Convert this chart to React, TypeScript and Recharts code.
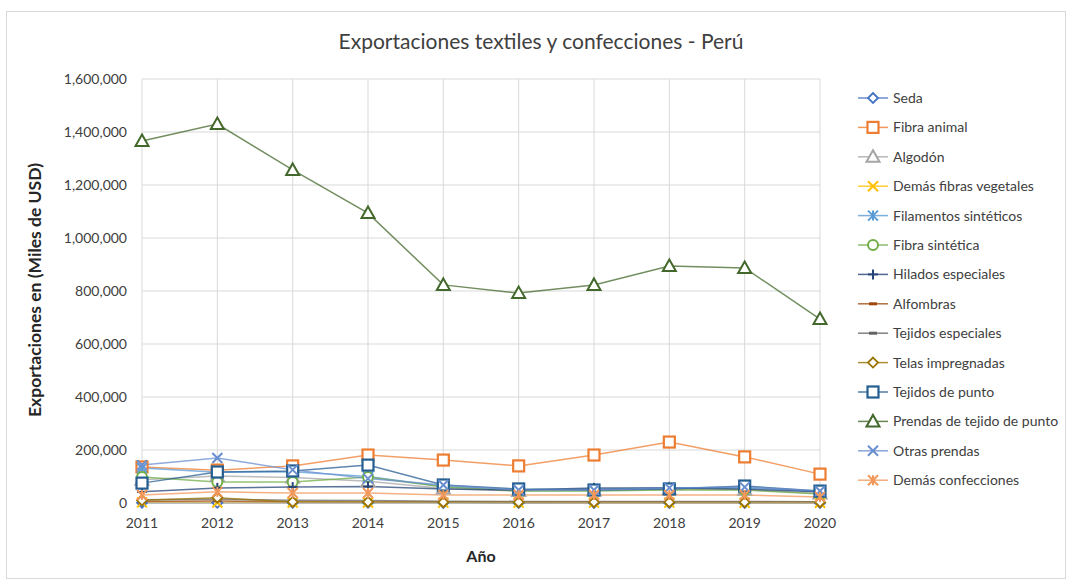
import React from 'react';
import { LineChart, Line, XAxis, YAxis, CartesianGrid, Label } from 'recharts';

const years = ['2011', '2012', '2013', '2014', '2015', '2016', '2017', '2018', '2019', '2020'];

// Exportaciones en miles de USD por año
const seda = [1000, 800, 700, 600, 500, 400, 400, 400, 300, 300];
const fibraAnimal = [136000, 124000, 140000, 181000, 162000, 140000, 181000, 230000, 174000, 109000];
const algodon = [88000, 102000, 96000, 82000, 55000, 45000, 47000, 52000, 50000, 36000];
const demasFibrasVegetales = [2500, 2000, 2000, 1800, 1500, 1500, 1400, 1300, 1200, 1000];
const filamentosSinteticos = [132000, 116000, 118000, 100000, 62000, 50000, 52000, 58000, 58000, 42000];
const fibraSintetica = [98000, 79000, 79000, 98000, 60000, 45000, 45000, 49000, 49000, 34000];
const hiladosEspeciales = [42000, 57000, 60000, 62000, 53000, 49000, 57000, 57000, 53000, 42000];
const alfombras = [6000, 8000, 4000, 3000, 3000, 2000, 2000, 2000, 2000, 1500];
const tejidosEspeciales = [12000, 14000, 10000, 9000, 7000, 6000, 6000, 6000, 6000, 5000];
const telasImpregnadas = [10000, 20000, 4000, 4000, 3000, 3000, 3000, 3000, 3000, 3000];
const tejidosDePunto = [75000, 117000, 121000, 143000, 68000, 53000, 49000, 53000, 64000, 45000];
const prendasTejidoPunto = [1366000, 1430000, 1257000, 1094000, 823000, 792000, 823000, 894000, 887000, 694000];
const otrasPrendas = [143000, 170000, 125000, 92000, 68000, 49000, 49000, 57000, 60000, 45000];
const demasConfecciones = [30000, 42000, 38000, 38000, 30000, 30000, 30000, 30000, 30000, 23000];

const yTicks = [0, 200000, 400000, 600000, 800000, 1000000, 1200000, 1400000, 1600000];

type Shape = 'diamond' | 'square' | 'triangle' | 'x' | 'star' | 'circle' | 'plus' | 'dash';

const series: { key: string; name: string; values: number[]; color: string; shape: Shape }[] = [
  { key: 'seda', name: 'Seda', values: seda, color: '#4472C4', shape: 'diamond' },
  { key: 'fibraAnimal', name: 'Fibra animal', values: fibraAnimal, color: '#ED7D31', shape: 'square' },
  { key: 'algodon', name: 'Algodón', values: algodon, color: '#A5A5A5', shape: 'triangle' },
  { key: 'demasFibras', name: 'Demás fibras vegetales', values: demasFibrasVegetales, color: '#FFC000', shape: 'x' },
  { key: 'filamentos', name: 'Filamentos sintéticos', values: filamentosSinteticos, color: '#5B9BD5', shape: 'star' },
  { key: 'fibraSintetica', name: 'Fibra sintética', values: fibraSintetica, color: '#70AD47', shape: 'circle' },
  { key: 'hilados', name: 'Hilados especiales', values: hiladosEspeciales, color: '#264478', shape: 'plus' },
  { key: 'alfombras', name: 'Alfombras', values: alfombras, color: '#9E480E', shape: 'dash' },
  { key: 'tejidosEsp', name: 'Tejidos especiales', values: tejidosEspeciales, color: '#636363', shape: 'dash' },
  { key: 'telas', name: 'Telas impregnadas', values: telasImpregnadas, color: '#997300', shape: 'diamond' },
  { key: 'tejidosPunto', name: 'Tejidos de punto', values: tejidosDePunto, color: '#255E91', shape: 'square' },
  { key: 'prendas', name: 'Prendas de tejido de punto', values: prendasTejidoPunto, color: '#43682B', shape: 'triangle' },
  { key: 'otras', name: 'Otras prendas', values: otrasPrendas, color: '#698ED0', shape: 'x' },
  { key: 'demasConf', name: 'Demás confecciones', values: demasConfecciones, color: '#F1975A', shape: 'star' },
];

const data = years.map((year, i) => {
  const row: Record<string, string | number> = { year };
  series.forEach((s) => {
    row[s.key] = s.values[i];
  });
  return row;
});

const FONT = 'Lato, "Noto Sans", sans-serif';

const Marker = ({ cx, cy, shape, color }: { cx: number; cy: number; shape: Shape; color: string }) => {
  const r = 5;
  switch (shape) {
    case 'diamond':
      return (
        <polygon
          points={`${cx},${cy - r} ${cx + r},${cy} ${cx},${cy + r} ${cx - r},${cy}`}
          fill="#fff"
          stroke={color}
          strokeWidth={1.8}
        />
      );
    case 'square':
      return <rect x={cx - 5.5} y={cy - 5.5} width={11} height={11} fill="#fff" stroke={color} strokeWidth={2.2} />;
    case 'triangle':
      return (
        <polygon
          points={`${cx},${cy - 6.5} ${cx + 6.5},${cy + 5} ${cx - 6.5},${cy + 5}`}
          fill="#fff"
          stroke={color}
          strokeWidth={2}
        />
      );
    case 'circle':
      return <circle cx={cx} cy={cy} r={5} fill="#fff" stroke={color} strokeWidth={2} />;
    case 'x':
      return (
        <g stroke={color} strokeWidth={2}>
          <line x1={cx - r} y1={cy - r} x2={cx + r} y2={cy + r} />
          <line x1={cx - r} y1={cy + r} x2={cx + r} y2={cy - r} />
        </g>
      );
    case 'star':
      return (
        <g stroke={color} strokeWidth={2}>
          <line x1={cx - r} y1={cy - r} x2={cx + r} y2={cy + r} />
          <line x1={cx - r} y1={cy + r} x2={cx + r} y2={cy - r} />
          <line x1={cx} y1={cy - r} x2={cx} y2={cy + r} />
        </g>
      );
    case 'plus':
      return (
        <g stroke={color} strokeWidth={2}>
          <line x1={cx - r} y1={cy} x2={cx + r} y2={cy} />
          <line x1={cx} y1={cy - r} x2={cx} y2={cy + r} />
        </g>
      );
    default:
      return <line x1={cx - 4} y1={cy} x2={cx + 4} y2={cy} stroke={color} strokeWidth={3} />;
  }
};

const LegendBox = () => (
  <svg width={215} height={420} style={{ position: 'absolute', left: 852, top: 84 }}>
    {series.map((s, i) => {
      const y = 14 + i * 29.4;
      return (
        <g key={s.key}>
          <line x1={6} y1={y} x2={36} y2={y} stroke={s.color} strokeWidth={1.5} strokeOpacity={0.8} />
          <Marker cx={21} cy={y} shape={s.shape} color={s.color} />
          <text x={41} y={y} dy="0.35em" fontSize={14} fill="#404040" fontFamily={FONT}>
            {s.name}
          </text>
        </g>
      );
    })}
  </svg>
);

export default function App() {
  return (
    <div style={{ position: 'absolute', left: 0, top: 0, width: 1067, height: 581, background: '#fff', overflow: 'hidden' }}>
      <div
        style={{
          position: 'absolute',
          left: 6,
          top: 11,
          width: 1060,
          height: 568,
          border: '1px solid #d9d9d9',
          boxSizing: 'border-box',
        }}
      />
      <div
        style={{
          position: 'absolute',
          left: 0,
          top: 28,
          width: 1082,
          textAlign: 'center',
          fontFamily: FONT,
          fontSize: 21,
          color: '#404040',
        }}
      >
        Exportaciones textiles y confecciones - Perú
      </div>
      <svg width={60} height={581} style={{ position: 'absolute', left: 0, top: 0 }}>
        <text
          x={35}
          y={290}
          transform="rotate(-90 35 290)"
          textAnchor="middle"
          dy="0.35em"
          fontSize={17.5}
          fontWeight={700}
          fill="#262626"
          fontFamily={FONT}
        >
          Exportaciones en (Miles de USD)
        </text>
      </svg>
      <div style={{ position: 'absolute', left: 0, top: 0 }}>
        <LineChart width={1067} height={581} data={data} margin={{ top: 79, right: 247, bottom: 48, left: 62 }}>
          <CartesianGrid stroke="#d9d9d9" strokeWidth={1} />
          <XAxis
            dataKey="year"
            tickLine={false}
            axisLine={{ stroke: '#bfbfbf' }}
            tickSize={0}
            tickMargin={15}
            height={30}
            tick={{ fontSize: 14, fill: '#404040', fontFamily: FONT }}
            interval={0}
          >
            <Label value="Año" position="bottom" offset={18} style={{ fontSize: 16, fontWeight: 700, fill: '#262626', fontFamily: FONT }} />
          </XAxis>
          <YAxis
            width={80}
            domain={[0, 1600000]}
            ticks={yTicks}
            tickLine={false}
            axisLine={false}
            tickSize={0}
            tickMargin={15}
            tickFormatter={(v: number) => v.toLocaleString('en-US')}
            tick={{ fontSize: 14, fill: '#404040', fontFamily: FONT }}
          />
          {series.map((s) => (
            <Line
              key={s.key}
              dataKey={s.key}
              name={s.name}
              stroke={s.color}
              strokeWidth={1.5}
              strokeOpacity={0.75}
              isAnimationActive={false}
              dot={(p: any) => <Marker key={`${s.key}-${p.index}`} cx={p.cx} cy={p.cy} shape={s.shape} color={s.color} />}
              activeDot={false}
            />
          ))}
        </LineChart>
      </div>
      <LegendBox />
    </div>
  );
}
